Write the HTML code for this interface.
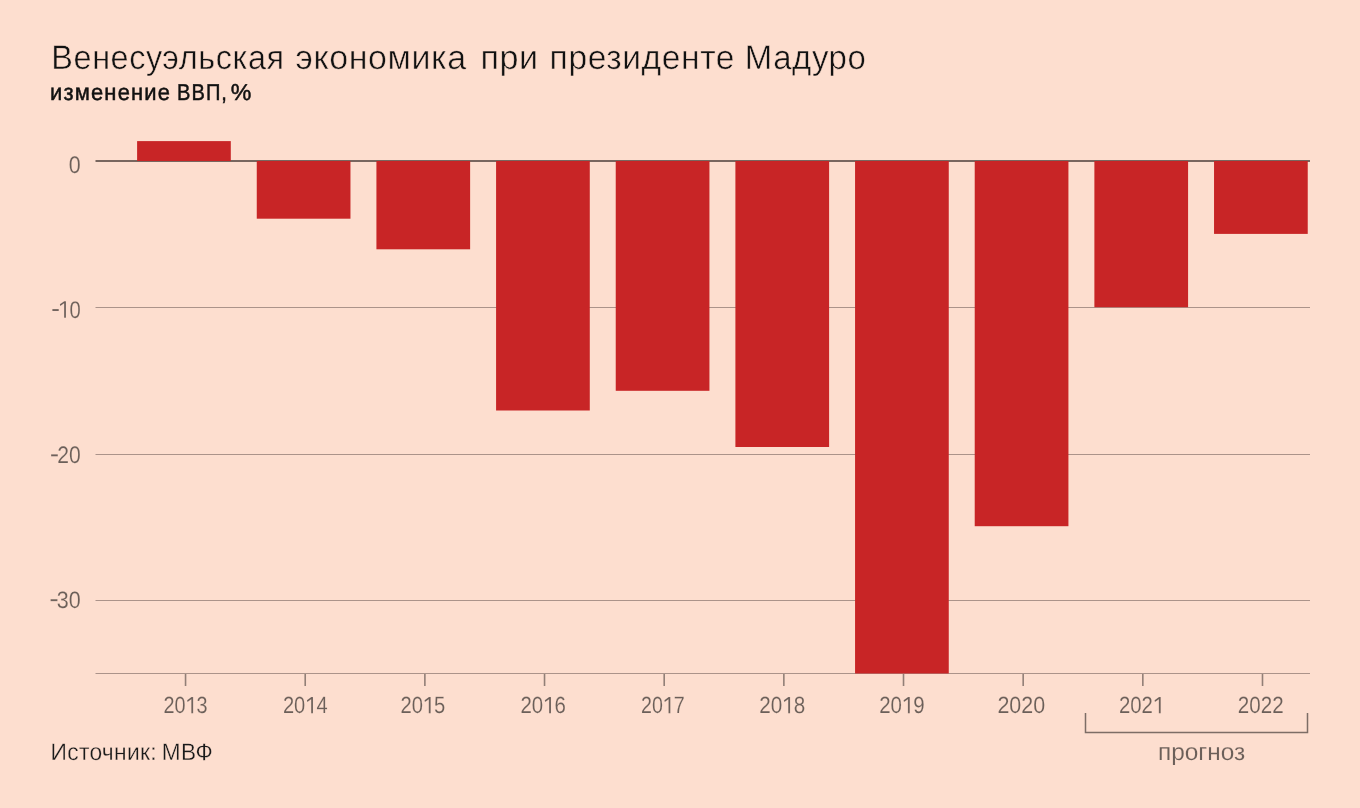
<!DOCTYPE html>
<html><head><meta charset="utf-8"><style>
html,body{margin:0;padding:0;background:#fddecf;}
body{width:1360px;height:808px;overflow:hidden;}
svg{display:block;will-change:transform;}
text{font-family:"Liberation Sans",sans-serif;text-rendering:geometricPrecision;}
.lbl{fill:#6b5f59;stroke:#fddecf;stroke-width:0.12px;}
.one{fill:#6b5f59;stroke:#fddecf;stroke-width:0.12px;vector-effect:non-scaling-stroke;}
.title{fill:#111;stroke:#fddecf;stroke-width:0.5px;}
.sub{fill:#111;stroke:#111;stroke-width:0.5px;}
.src{fill:#1a1a1a;stroke:#fddecf;stroke-width:0.3px;}
</style></head><body>
<svg width="1360" height="808" viewBox="0 0 1360 808">
<rect width="1360" height="808" fill="#fddecf"/>
<rect x="95.5" y="307" width="1214.5" height="1" fill="#ab938a"/>
<rect x="95.5" y="454" width="1214.5" height="1" fill="#ab938a"/>
<rect x="95.5" y="600" width="1214.5" height="1" fill="#ab938a"/>
<rect x="95.5" y="673" width="1214.5" height="1" fill="#ab938a"/>
<rect x="95.5" y="160" width="1214.5" height="2" fill="#78665f"/>
<rect x="137.10" y="141.10" width="93.7" height="19.90" fill="#c82526"/>
<rect x="256.76" y="161.00" width="93.7" height="57.70" fill="#c82526"/>
<rect x="376.42" y="161.00" width="93.7" height="88.30" fill="#c82526"/>
<rect x="496.08" y="161.00" width="93.7" height="249.50" fill="#c82526"/>
<rect x="615.74" y="161.00" width="93.7" height="229.80" fill="#c82526"/>
<rect x="735.40" y="161.00" width="93.7" height="286.00" fill="#c82526"/>
<rect x="855.06" y="161.00" width="93.7" height="512.50" fill="#c82526"/>
<rect x="974.72" y="161.00" width="93.7" height="365.20" fill="#c82526"/>
<rect x="1094.38" y="161.00" width="93.7" height="146.20" fill="#c82526"/>
<rect x="1214.04" y="161.00" width="93.7" height="72.90" fill="#c82526"/>
<rect x="184.75" y="674" width="1.6" height="12" fill="#927f77"/>
<rect x="304.41" y="674" width="1.6" height="12" fill="#927f77"/>
<rect x="424.07" y="674" width="1.6" height="12" fill="#927f77"/>
<rect x="543.73" y="674" width="1.6" height="12" fill="#927f77"/>
<rect x="663.39" y="674" width="1.6" height="12" fill="#927f77"/>
<rect x="783.05" y="674" width="1.6" height="12" fill="#927f77"/>
<rect x="902.71" y="674" width="1.6" height="12" fill="#927f77"/>
<rect x="1022.37" y="674" width="1.6" height="12" fill="#927f77"/>
<rect x="1142.03" y="674" width="1.6" height="12" fill="#927f77"/>
<rect x="1261.69" y="674" width="1.6" height="12" fill="#927f77"/>
<path d="M1085.5 713 V732.5 H1307.5 V713" fill="none" stroke="#7d6d66" stroke-width="1.5"/>
<text class="title" font-size="34" letter-spacing="0.6" transform="translate(51.36 68.50) scale(0.9528 1.0000)">Венесуэльская</text>
<text class="title" font-size="34" letter-spacing="0.6" transform="translate(295.49 68.50) scale(0.9982 1.0000)">экономика</text>
<text class="title" font-size="34" letter-spacing="0.6" transform="translate(480.39 68.50) scale(1.0025 1.0000)">при</text>
<text class="title" font-size="34" letter-spacing="0.6" transform="translate(549.62 68.50) scale(0.9877 1.0000)">президенте</text>
<text class="title" font-size="34" letter-spacing="0.6" transform="translate(744.82 68.50) scale(0.9688 1.0000)">Мадуро</text>
<text class="sub" font-size="23" letter-spacing="1.2" transform="translate(50.04 100.30) scale(0.9560 1.0000)">изменение</text>
<text class="sub" font-size="23" letter-spacing="1.2" transform="translate(177.00 100.30) scale(0.8729 1.0000)">ВВП,</text>
<text class="sub" font-size="23" letter-spacing="1.2" transform="translate(230.70 100.30) scale(1.0066 1.0000)">%</text>
<text class="src" font-size="23.8" letter-spacing="0.3" transform="translate(50.50 759.60) scale(0.9593 1.0000)">Источник:</text>
<text class="src" font-size="23.8" letter-spacing="0.3" transform="translate(161.82 759.60) scale(0.9515 1.0000)">МВФ</text>
<text class="lbl" font-size="24" letter-spacing="0" transform="translate(1158.04 759.75) scale(1.0159 1.0000)">прогноз</text>
<text class="lbl" font-size="23" letter-spacing="0" transform="translate(68.71 172.74) scale(0.9323 1.0463)">0</text>
<g transform="translate(51.45 317.74) scale(0.8797 1.0489)"><text class="lbl" font-size="23">  0</text><path class="one" transform="translate(0.000 0) scale(0.011230 -0.011230)" d="M91,570H740V735H91Z"/><path class="one" transform="translate(7.659 0) scale(0.011230 -0.011230)" d="M600,0H785V1409H615L170,1140L205,990L600,1225Z"/></g>
<g transform="translate(50.17 462.99) scale(0.9193 1.0461)"><text class="lbl" font-size="23"> 20</text><path class="one" transform="translate(0.000 0) scale(0.011230 -0.011230)" d="M91,570H740V735H91Z"/></g>
<g transform="translate(49.65 607.74) scale(0.9352 1.0310)"><text class="lbl" font-size="23"> 30</text><path class="one" transform="translate(0.000 0) scale(0.011230 -0.011230)" d="M91,570H740V735H91Z"/></g>
<g transform="translate(163.44 713.24) scale(0.8631 1.0215)"><text class="lbl" font-size="23">20 3</text><path class="one" transform="translate(25.583 0) scale(0.011230 -0.011230)" d="M600,0H785V1409H615L170,1140L205,990L600,1225Z"/></g>
<g transform="translate(282.93 713.24) scale(0.8735 1.0215)"><text class="lbl" font-size="23">20 4</text><path class="one" transform="translate(25.583 0) scale(0.011230 -0.011230)" d="M600,0H785V1409H615L170,1140L205,990L600,1225Z"/></g>
<g transform="translate(400.43 713.24) scale(0.8778 1.0215)"><text class="lbl" font-size="23">20 5</text><path class="one" transform="translate(25.583 0) scale(0.011230 -0.011230)" d="M600,0H785V1409H615L170,1140L205,990L600,1225Z"/></g>
<g transform="translate(520.42 713.24) scale(0.8885 1.0215)"><text class="lbl" font-size="23">20 6</text><path class="one" transform="translate(25.583 0) scale(0.011230 -0.011230)" d="M600,0H785V1409H615L170,1140L205,990L600,1225Z"/></g>
<g transform="translate(640.95 713.24) scale(0.8541 1.0215)"><text class="lbl" font-size="23">20 7</text><path class="one" transform="translate(25.583 0) scale(0.011230 -0.011230)" d="M600,0H785V1409H615L170,1140L205,990L600,1225Z"/></g>
<g transform="translate(759.16 713.24) scale(0.8987 1.0215)"><text class="lbl" font-size="23">20 8</text><path class="one" transform="translate(25.583 0) scale(0.011230 -0.011230)" d="M600,0H785V1409H615L170,1140L205,990L600,1225Z"/></g>
<g transform="translate(879.17 713.24) scale(0.8892 1.0215)"><text class="lbl" font-size="23">20 9</text><path class="one" transform="translate(25.583 0) scale(0.011230 -0.011230)" d="M600,0H785V1409H615L170,1140L205,990L600,1225Z"/></g>
<text class="lbl" font-size="23" letter-spacing="0" transform="translate(997.38 713.24) scale(0.9327 1.0215)">2020</text>
<g transform="translate(1118.97 713.24) scale(0.8843 1.0215)"><text class="lbl" font-size="23">202 </text><path class="one" transform="translate(38.375 0) scale(0.011230 -0.011230)" d="M600,0H785V1409H615L170,1140L205,990L600,1225Z"/></g>
<text class="lbl" font-size="23" letter-spacing="0" transform="translate(1237.86 713.24) scale(0.8947 1.0215)">2022</text>
</svg>
</body></html>
